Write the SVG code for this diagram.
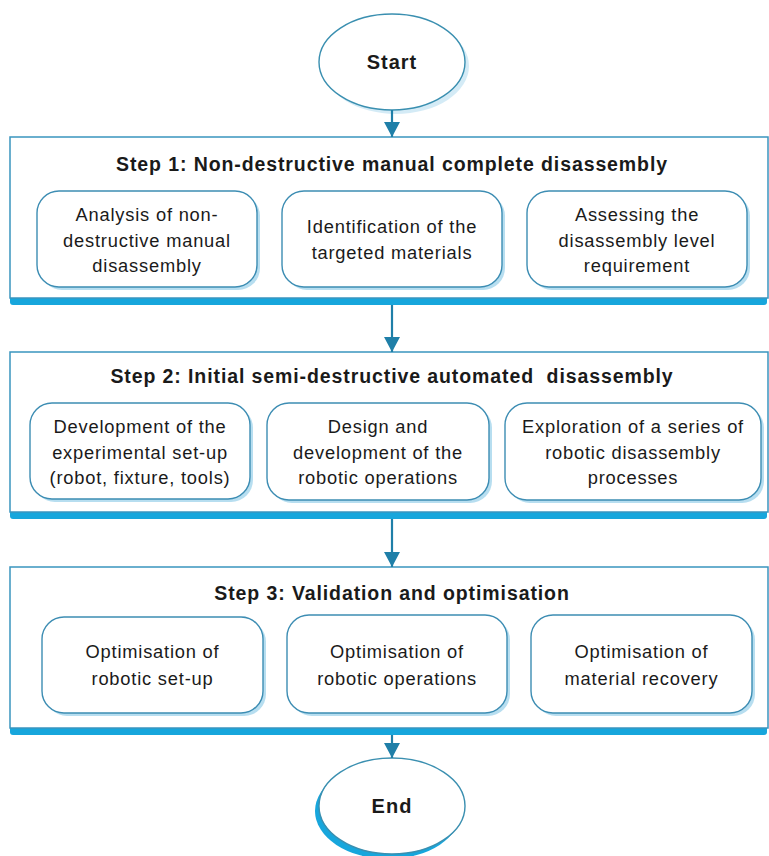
<svg xmlns="http://www.w3.org/2000/svg" width="769" height="856" viewBox="0 0 769 856">
<defs>
<style>
.step{fill:#ffffff;stroke:#3a95bf;stroke-width:1.5}
.bar{fill:#17a6dc}
.box{fill:#ffffff;stroke:#3d8db3;stroke-width:1.4}
.shadow{fill:#b7def0}
.title{font-family:"Liberation Sans",Arial,sans-serif;font-weight:bold;font-size:19.5px;letter-spacing:0.9px;fill:#1a1a1a;text-anchor:middle}
.txt{font-family:"Liberation Sans",Arial,sans-serif;font-size:18.3px;letter-spacing:0.8px;fill:#1a1a1a;text-anchor:middle}
.term{font-family:"Liberation Sans",Arial,sans-serif;font-weight:bold;font-size:20px;letter-spacing:1px;fill:#1a1a1a;text-anchor:middle}
.conn{stroke:#1f7fa8;stroke-width:2.2;fill:none}
.oval{fill:#ffffff;stroke:#3a8fb0;stroke-width:1.4}
</style>
<marker id="arrow" viewBox="0 0 15 16" refX="15" refY="8" markerWidth="15" markerHeight="16" markerUnits="userSpaceOnUse" orient="auto">
<path d="M0,0 L15,8 L0,16 Z" fill="#1f7fa8"/>
</marker>
</defs>

<g id="start">
<ellipse cx="396" cy="66" rx="73" ry="48" class="shadow" opacity="0.6"/>
<ellipse cx="392" cy="62" rx="73" ry="48" class="oval"/>
<text x="392" y="69" class="term">Start</text>
</g>

<g id="step1">
<rect x="10" y="291" width="757" height="14" rx="3" class="bar"/>
<rect x="10" y="137" width="758" height="161" class="step"/>
<text x="392" y="171" class="title">Step 1: Non-destructive manual complete disassembly</text>
</g>
<g id="s1a">
<rect x="40" y="194" width="220" height="96" rx="22" class="shadow"/>
<rect x="37" y="191" width="220" height="96" rx="22" class="box"/>
<text class="txt"><tspan x="147" y="221">Analysis of non-</tspan><tspan x="147" y="246.5">destructive manual</tspan><tspan x="147" y="272">disassembly</tspan></text>
</g>
<g id="s1b">
<rect x="285" y="194" width="220" height="96" rx="22" class="shadow"/>
<rect x="282" y="191" width="220" height="96" rx="22" class="box"/>
<text class="txt"><tspan x="392" y="233">Identification of the</tspan><tspan x="392" y="259">targeted materials</tspan></text>
</g>
<g id="s1c">
<rect x="530" y="194" width="220" height="96" rx="22" class="shadow"/>
<rect x="527" y="191" width="220" height="96" rx="22" class="box"/>
<text class="txt"><tspan x="637" y="221">Assessing the</tspan><tspan x="637" y="246.5">disassembly level</tspan><tspan x="637" y="272">requirement</tspan></text>
</g>

<g id="step2">
<rect x="10" y="505" width="757" height="14" rx="3" class="bar"/>
<rect x="10" y="352" width="758" height="160" class="step"/>
<text x="392" y="383" class="title" xml:space="preserve">Step 2: Initial semi-destructive automated  disassembly</text>
</g>
<g id="s2a">
<rect x="33" y="406" width="220" height="96" rx="22" class="shadow"/>
<rect x="30" y="403" width="220" height="96" rx="22" class="box"/>
<text class="txt"><tspan x="140" y="433">Development of the</tspan><tspan x="140" y="458.5">experimental set-up</tspan><tspan x="140" y="484">(robot, fixture, tools)</tspan></text>
</g>
<g id="s2b">
<rect x="270" y="406" width="222" height="97" rx="22" class="shadow"/>
<rect x="267" y="403" width="222" height="97" rx="22" class="box"/>
<text class="txt"><tspan x="378" y="433">Design and</tspan><tspan x="378" y="458.5">development of the</tspan><tspan x="378" y="484">robotic operations</tspan></text>
</g>
<g id="s2c">
<rect x="508" y="406" width="256" height="97" rx="22" class="shadow"/>
<rect x="505" y="403" width="256" height="97" rx="22" class="box"/>
<text class="txt"><tspan x="633" y="433">Exploration of a series of</tspan><tspan x="633" y="458.5">robotic disassembly</tspan><tspan x="633" y="484">processes</tspan></text>
</g>

<g id="step3">
<rect x="10" y="721" width="757" height="14" rx="3" class="bar"/>
<rect x="10" y="567" width="758" height="161" class="step"/>
<text x="392" y="600" class="title">Step 3: Validation and optimisation</text>
</g>
<g id="s3a">
<rect x="45" y="620" width="221" height="96" rx="22" class="shadow"/>
<rect x="42" y="617" width="221" height="96" rx="22" class="box"/>
<text class="txt"><tspan x="152.5" y="658">Optimisation of</tspan><tspan x="152.5" y="685">robotic set-up</tspan></text>
</g>
<g id="s3b">
<rect x="290" y="618" width="220" height="98" rx="22" class="shadow"/>
<rect x="287" y="615" width="220" height="98" rx="22" class="box"/>
<text class="txt"><tspan x="397" y="658">Optimisation of</tspan><tspan x="397" y="685">robotic operations</tspan></text>
</g>
<g id="s3c">
<rect x="534" y="618" width="221" height="98" rx="22" class="shadow"/>
<rect x="531" y="615" width="221" height="98" rx="22" class="box"/>
<text class="txt"><tspan x="641.5" y="658">Optimisation of</tspan><tspan x="641.5" y="685">material recovery</tspan></text>
</g>

<g id="end">
<ellipse cx="388" cy="811" rx="73" ry="48" fill="#17a6dc"/>
<ellipse cx="392" cy="806" rx="73" ry="48" class="oval"/>
<text x="392" y="813" class="term">End</text>
</g>

<g id="connectors">
<line x1="392" y1="110" x2="392" y2="137" class="conn" marker-end="url(#arrow)"/>
<line x1="392" y1="305" x2="392" y2="352" class="conn" marker-end="url(#arrow)"/>
<line x1="392" y1="519" x2="392" y2="567" class="conn" marker-end="url(#arrow)"/>
<line x1="392" y1="735" x2="392" y2="758" class="conn" marker-end="url(#arrow)"/>
</g>
</svg>
